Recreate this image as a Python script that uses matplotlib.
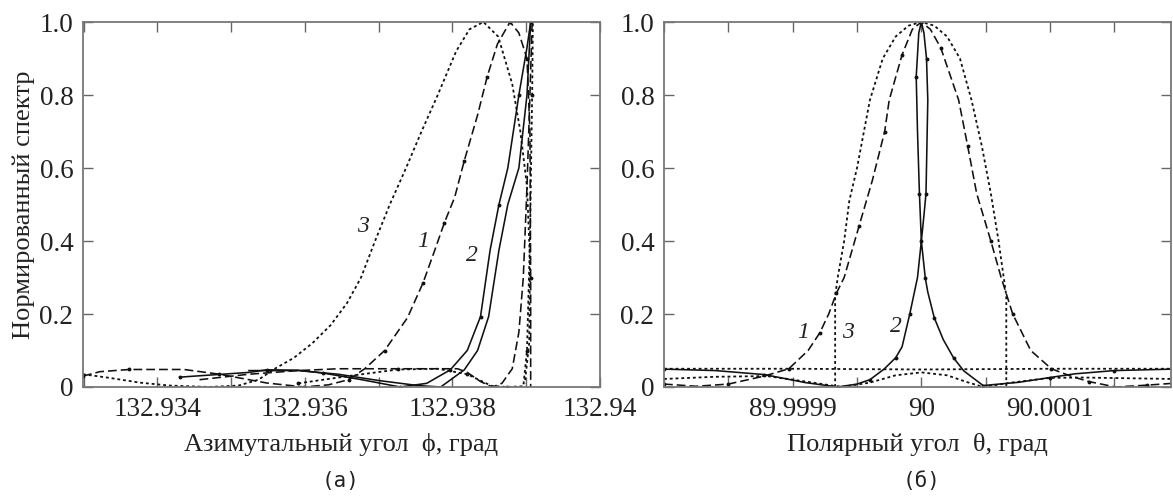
import numpy as np
import matplotlib
matplotlib.use("Agg")
import matplotlib.pyplot as plt
from matplotlib.ticker import MultipleLocator, FixedLocator, FixedFormatter

plt.rcParams['font.family'] = ['Liberation Serif', 'DejaVu Serif']

# ---------- panel (a): azimuthal angle, deg ----------
a3_phi = [132.93299, 132.93335, 132.93376, 132.93416, 132.93470, 132.93510, 132.93537, 132.93559,
          132.93585, 132.93610, 132.93635, 132.93657, 132.93676, 132.93695, 132.93715, 132.93737,
          132.93758, 132.93780, 132.93805, 132.93823, 132.93842, 132.93862, 132.93881, 132.93892,
          132.93901, 132.93905, 132.93904, 132.93898]
a3_s = [0.035, 0.025, 0.012, 0.004, 0.0, 0.004, 0.02, 0.05, 0.08, 0.12, 0.17, 0.23, 0.30, 0.40,
        0.50, 0.60, 0.70, 0.80, 0.92, 0.98, 1.0, 0.96, 0.83, 0.70, 0.55, 0.35, 0.12, 0.01]

a3b_phi = [132.93591, 132.93659, 132.93726, 132.93780, 132.93820, 132.93853, 132.93874,
           132.93896, 132.93901, 132.93905, 132.93908, 132.93909]
a3b_s = [0.01, 0.03, 0.048, 0.05, 0.035, 0.003, 0.0, 0.002, 0.1, 0.4, 0.8, 1.0]

a1_phi = [132.93299, 132.93322, 132.93362, 132.93436, 132.93484, 132.93548, 132.93599, 132.93632,
          132.93659, 132.93681, 132.93708, 132.93739, 132.93760, 132.93776, 132.93789, 132.93803,
          132.93816, 132.93834, 132.93847, 132.93861, 132.93878, 132.93890, 132.93901, 132.93905,
          132.93906, 132.93906]
a1_s = [0.03, 0.042, 0.048, 0.048, 0.035, 0.011, 0.0, 0.006, 0.02, 0.05, 0.10, 0.19, 0.285, 0.375,
        0.45, 0.52, 0.62, 0.745, 0.85, 0.94, 1.0, 0.97, 0.9, 0.7, 0.3, 0.0]

a1b_phi = [132.93457, 132.93524, 132.93591, 132.93645, 132.93807, 132.93820, 132.93838, 132.93854,
           132.93867, 132.93881, 132.93890, 132.93896, 132.93901, 132.93905, 132.93908]
a1b_s = [0.02, 0.035, 0.045, 0.05, 0.05, 0.04, 0.015, 0.0, 0.01, 0.05, 0.15, 0.3, 0.55, 0.8, 1.0]

a2_phi = [132.93430, 132.93524, 132.93548, 132.93591, 132.93625, 132.93677, 132.93729, 132.93765,
          132.93797, 132.93820, 132.93838, 132.93851, 132.93863, 132.93875, 132.93890, 132.93901,
          132.93906]
a2_s = [0.027, 0.04, 0.047, 0.046, 0.038, 0.02, 0.0, 0.01, 0.047, 0.10, 0.193, 0.375, 0.5, 0.6,
        0.8, 0.93, 1.0]

a2b_phi = [132.93524, 132.93591, 132.93645, 132.93699, 132.93753, 132.93784, 132.93816, 132.93834,
           132.93849, 132.93863, 132.93875, 132.93890, 132.93901, 132.93906]
a2b_s = [0.045, 0.045, 0.035, 0.018, 0.004, 0.0, 0.047, 0.10, 0.193, 0.375, 0.5, 0.6, 0.8, 1.0]

# ---------- panel (б): polar angle, offset from 90 deg in units of 1e-4 deg ----------
b1_dt = [-2.0, -1.75, -1.5, -1.22, -1.03, -0.88, -0.79, -0.72, -0.66, -0.60, -0.485, -0.38,
         -0.285, -0.25, -0.15, -0.07, 0.0, 0.07, 0.15, 0.29, 0.36, 0.43, 0.54, 0.62, 0.71, 0.85,
         1.01, 1.16, 1.3, 1.51, 1.75, 1.95]
b1_s = [0.008, 0.002, 0.008, 0.03, 0.05, 0.10, 0.148, 0.2, 0.257, 0.3, 0.44, 0.567, 0.70, 0.786,
        0.91, 0.98, 1.0, 0.98, 0.93, 0.786, 0.66, 0.53, 0.4, 0.3, 0.2, 0.1, 0.05, 0.03, 0.015, 0.0,
        0.005, 0.01]

b3_dt = [-0.67, -0.67, -0.65, -0.60, -0.56, -0.50, -0.40, -0.30, -0.20, -0.10, 0.0, 0.10, 0.20,
         0.30, 0.39, 0.47, 0.54, 0.60, 0.64, 0.66, 0.66]
b3_s = [0.0, 0.25, 0.30, 0.40, 0.51, 0.60, 0.786, 0.90, 0.96, 0.99, 1.0, 0.99, 0.96, 0.90, 0.786,
        0.66, 0.53, 0.40, 0.30, 0.25, 0.0]

b3b_dt = [-2.0, -1.0, 0.0, 1.0, 1.95]
b3b_s = [0.05, 0.05, 0.048, 0.05, 0.05]

b3c_dt = [-2.0, -1.6, -1.2, -0.9, -0.62, -0.4, -0.2, 0.0, 0.2, 0.35, 0.48, 0.7, 1.0, 1.25, 1.6, 1.95]
b3c_s = [0.022, 0.028, 0.03, 0.015, 0.0, 0.012, 0.032, 0.04, 0.032, 0.014, 0.0, 0.012, 0.025,
         0.026, 0.024, 0.022]

b2_dt = [-2.0, -1.6, -1.22, -0.9, -0.65, -0.5, -0.4, -0.29, -0.2, -0.15, -0.09, -0.03, 0.0, 0.02,
         0.036, 0.05, 0.04, 0.02, 0.0, -0.02, -0.04, -0.03, -0.015, 0.0, 0.03, 0.05, 0.1, 0.17,
         0.25, 0.33, 0.48, 0.76, 1.0, 1.19, 1.5, 1.95]
b2_s = [0.049, 0.045, 0.034, 0.012, 0.0, 0.008, 0.02, 0.049, 0.08, 0.11, 0.2, 0.3, 0.4, 0.47, 0.53,
        0.786, 0.9, 0.97, 1.0, 0.97, 0.85, 0.7, 0.53, 0.4, 0.3, 0.26, 0.19, 0.13, 0.08, 0.044,
        0.004, 0.013, 0.026, 0.036, 0.045, 0.049]

y_ticks = [0, 0.2, 0.4, 0.6, 0.8, 1.0]
y_labels = ['0', '0.2', '0.4', '0.6', '0.8', '1.0']
a_ticks = [132.934, 132.936, 132.938, 132.94]
a_labels = ['132.934', '132.936', '132.938', '132.94']
b_ticks = [89.9999, 90.0, 90.0001]
b_labels = ['89.9999', '90', '90.0001']

# ---------- figure ----------
W, H = 1173, 496
fig = plt.figure(figsize=(W / 100, H / 100), dpi=100)
axa = fig.add_axes([83 / W, 1 - 387 / H, (600 - 83) / W, (387 - 22) / H])
axb = fig.add_axes([664 / W, 1 - 387 / H, (1171 - 664) / W, (387 - 22) / H])

ink = '#111111'
dash = (0, (5.5, 2.5))
dot = (0, (1.6, 1.6))
lw = 1.15
mk = dict(marker='o', ms=1.8, markevery=2, mfc=ink, mec=ink)

axa.plot(a3_phi, a3_s, color=ink, lw=1.3, ls=dot)
axa.plot(a3b_phi, a3b_s, color=ink, lw=1.3, ls=dot, **mk)
axa.plot(a1_phi, a1_s, color=ink, lw=lw, ls=dash, **mk)
axa.plot(a1b_phi, a1b_s, color=ink, lw=lw, ls=dash)
axa.plot(a2_phi, a2_s, color=ink, lw=lw, ls='-', **mk)
axa.plot(a2b_phi, a2b_s, color=ink, lw=lw, ls='-')

b_theta = lambda d: 90 + np.array(d) * 1e-4
axb.plot(b_theta(b1_dt), b1_s, color=ink, lw=lw, ls=dash, **mk)
axb.plot(b_theta(b3_dt), b3_s, color=ink, lw=1.3, ls=dot)
axb.plot(b_theta(b3b_dt), b3b_s, color=ink, lw=1.3, ls=dot)
axb.plot(b_theta(b3c_dt), b3c_s, color=ink, lw=1.3, ls=dot)
axb.plot(b_theta(b2_dt), b2_s, color=ink, lw=lw, ls='-', **mk)

# curve numbers
lab = dict(fontsize=17, style='italic', color='#222222', ha='center', va='center')
axa.text(132.93678, 0.44, '3', **lab)
axa.text(132.93760, 0.40, '1', **lab)
axa.text(132.93826, 0.36, '2', **lab)
axb.text(90 - 0.92e-4, 0.15, '1', **lab)
axb.text(90 - 0.57e-4, 0.15, '3', **lab)
axb.text(90 - 0.20e-4, 0.165, '2', **lab)

axa.set_xlim(132.93299, 132.940)
axb.set_xlim(89.9998, 90.000194)

for ax, ticks, labels, step in [(axa, a_ticks, a_labels, 0.001), (axb, b_ticks, b_labels, 0.00005)]:
    ax.set_ylim(0, 1.0)
    ax.yaxis.set_major_locator(FixedLocator(y_ticks))
    ax.yaxis.set_major_formatter(FixedFormatter(y_labels))
    ax.xaxis.set_major_locator(FixedLocator(ticks))
    ax.xaxis.set_major_formatter(FixedFormatter(labels))
    ax.xaxis.set_minor_locator(MultipleLocator(step))
    ax.tick_params(which='both', direction='in', top=True, right=True, length=7,
                   width=1.0, color='#666666', labelsize=19.5, labelcolor='#222222', pad=7)
    for s in ax.spines.values():
        s.set_color('#777777')
        s.set_linewidth(1.3)

axa.set_ylabel('Нормированный спектр', fontsize=19, color='#222222', labelpad=3)
axa.set_xlabel('Азимутальный угол  ϕ, град', fontsize=19, color='#222222', labelpad=8)
axb.set_xlabel('Полярный угол  θ, град', fontsize=19, color='#222222', labelpad=8)

fig.text(341 / W, 1 - 481 / H, '(a)', fontsize=15, family='DejaVu Sans Mono',
         ha='center', va='center', color='#222222')
fig.text(922 / W, 1 - 481 / H, '(б)', fontsize=15, family='DejaVu Sans Mono',
         ha='center', va='center', color='#222222')

fig.savefig('out.png', dpi=100)
